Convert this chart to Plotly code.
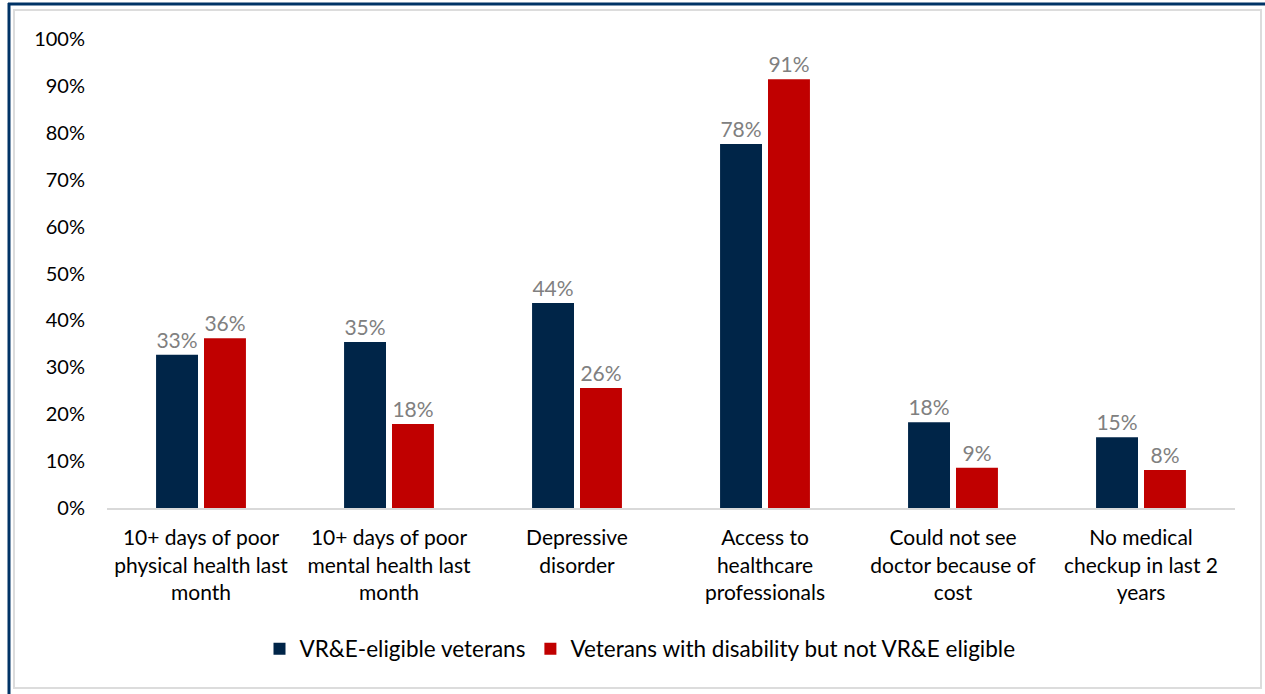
import plotly.graph_objects as go

categories = [
    "10+ days of poor<br>physical health last<br>month",
    "10+ days of poor<br>mental health last<br>month",
    "Depressive<br>disorder",
    "Access to<br>healthcare<br>professionals",
    "Could not see<br>doctor because of<br>cost",
    "No medical<br>checkup in last 2<br>years",
]
series_names = ["VR&E-eligible veterans", "Veterans with disability but not VR&E eligible"]
vre_eligible = [32.7, 35.4, 43.7, 77.6, 18.3, 15.1]
not_eligible = [36.2, 17.9, 25.6, 91.4, 8.6, 8.1]
y_ticks = [0, 10, 20, 30, 40, 50, 60, 70, 80, 90, 100]
y_tick_labels = [f"{t}%" for t in y_ticks]

colors = ["#002548", "#C00000"]
FONT = "Lato, Open Sans, sans-serif"

fig = go.Figure()
for name, vals, col in zip(series_names, [vre_eligible, not_eligible], colors):
    fig.add_trace(go.Bar(
        x=categories, y=vals, name=name,
        marker=dict(color=col, line=dict(width=0)),
        texttemplate="%{y:.0f}%", textposition="outside",
        textfont=dict(color="#808080", size=21, family=FONT),
        cliponaxis=False,
    ))

W, H = 1265, 694
L, R, T, B = 107, 30, 39, 186
pw, ph = W - L - R, H - T - B

def px(x):
    return (x - L) / pw

def py(y):
    return (H - B - y) / ph

shapes = [
    # outer blue frame (left and top)
    dict(type="line", xref="paper", yref="paper", x0=px(9), x1=px(9), y0=py(3), y1=py(694),
         line=dict(color="#003366", width=3)),
    dict(type="line", xref="paper", yref="paper", x0=px(8), x1=px(1265), y0=py(4), y1=py(4),
         line=dict(color="#003366", width=3)),
    # inner grey frame
    dict(type="rect", xref="paper", yref="paper", x0=px(14), x1=px(1261), y0=py(688), y1=py(10),
         line=dict(color="#dcdcdc", width=2)),
]

fig.update_layout(
    width=W, height=H,
    margin=dict(l=L, r=R, t=T, b=B),
    paper_bgcolor="white", plot_bgcolor="white",
    font=dict(family=FONT, size=20, color="#000000"),
    barmode="group", bargap=0.49, bargroupgap=0.125,
    showlegend=True,
    legend=dict(orientation="h", x=px(640), xanchor="center", y=py(649), yanchor="middle",
                font=dict(size=22.5, family=FONT), itemwidth=30, traceorder="normal"),
    shapes=shapes,
    xaxis=dict(showgrid=False, showline=True, linecolor="#d9d9d9", linewidth=2,
               ticks="", ticklabelstandoff=10, tickfont=dict(size=21, family=FONT)),
    yaxis=dict(range=[0, 100], tickvals=y_ticks, ticktext=y_tick_labels, showgrid=False,
               zeroline=False, showline=False, ticks="", ticklabelstandoff=21,
               tickfont=dict(size=20, family=FONT)),
)

fig.write_html("out.html", config={"displayModeBar": False},
               post_script="document.body.style.margin='0';document.body.style.overflow='hidden';")
